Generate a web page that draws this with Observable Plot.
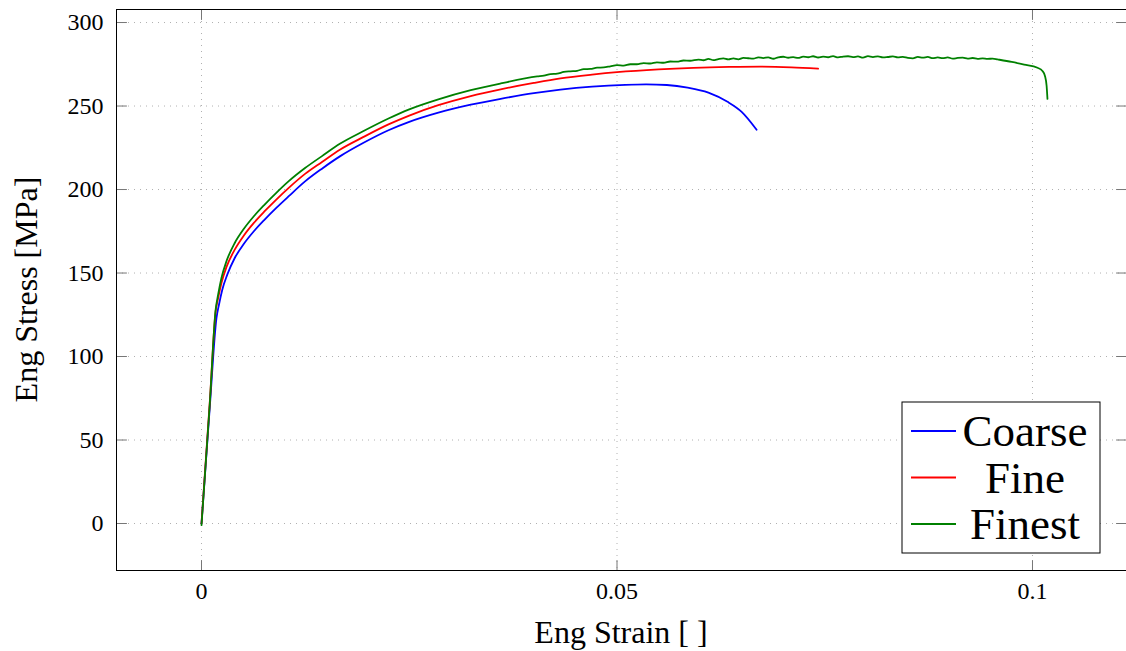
<!DOCTYPE html>
<html><head><meta charset="utf-8">
<script src="https://cdn.jsdelivr.net/npm/d3@7"></script>
<script src="https://cdn.jsdelivr.net/npm/@observablehq/plot@0.6"></script>
<style>
body{margin:0;background:#fff}
svg{display:block}
svg text{font-family:"Liberation Serif","DejaVu Serif",serif !important;}
</style>
</head><body><div id="chart"></div>
<script>
const seriesNames = ["Coarse", "Fine", "Finest"];
const seriesColors = ["#0000ff", "#ff0000", "#008000"];

const coarseStrain = [0, 0.001, 0.0018, 0.0021, 0.0025, 0.0031, 0.0040, 0.0051, 0.0063, 0.0076, 0.0090, 0.0105, 0.0125, 0.0145, 0.0167, 0.0195, 0.0225, 0.0250, 0.0285, 0.0324, 0.0360, 0.0400, 0.0432, 0.0470, 0.0510, 0.0535, 0.0560, 0.0585, 0.0610, 0.0633, 0.0650, 0.0668];
const coarseStress = [0, 70, 123, 131, 140, 149, 159, 167.5, 175, 182, 189, 196, 205, 212.5, 220, 228, 235.5, 240.5, 246, 250.8, 254.3, 257.7, 259.8, 261.6, 262.7, 263, 262.6, 261, 258, 252.5, 246.5, 235.8];

const fineStrain = [0, 0.001, 0.0017, 0.0020, 0.0024, 0.0030, 0.0040, 0.0051, 0.0063, 0.0076, 0.0090, 0.0105, 0.0125, 0.0145, 0.0167, 0.0195, 0.0225, 0.0250, 0.0285, 0.0324, 0.0360, 0.0400, 0.0432, 0.0470, 0.0500, 0.0550, 0.0592, 0.0635, 0.0673, 0.0710, 0.0742];
const fineStress = [0, 73, 127, 135, 144, 153.5, 164, 172.5, 180, 187, 194, 201, 209.5, 216.5, 224, 231.5, 239, 244.3, 250.5, 256, 260, 263.8, 266.5, 268.8, 270.3, 272, 272.9, 273.4, 273.6, 273.2, 272.4];

const finestStrain = [0, 0.001, 0.0017, 0.0020, 0.0024, 0.0030, 0.0040, 0.0051, 0.0063, 0.0076, 0.0090, 0.0105, 0.0125, 0.0145, 0.0167, 0.0195, 0.0225, 0.0250, 0.0285, 0.0324, 0.0360,
  0.0404, 0.0412, 0.0420, 0.0428, 0.0436, 0.0444, 0.0452, 0.0460, 0.0468, 0.0476, 0.0484, 0.0492, 0.0500, 0.0508, 0.0516, 0.0524, 0.0532, 0.0540, 0.0548, 0.0556, 0.0564, 0.0572, 0.0580, 0.0588,
  0.0598, 0.0604, 0.0610, 0.0616, 0.0622, 0.0628, 0.0634, 0.0640, 0.0646, 0.0652, 0.0658, 0.0664, 0.0670, 0.0676, 0.0682, 0.0688, 0.0694, 0.0700, 0.0706, 0.0712,
  0.0718, 0.0724, 0.0730, 0.0736, 0.0742, 0.0748, 0.0754, 0.0760, 0.0766, 0.0772, 0.0778, 0.0784, 0.0790, 0.0796, 0.0802, 0.0808, 0.0814, 0.0820, 0.0826, 0.0832,
  0.0838, 0.0844, 0.0850, 0.0856, 0.0862, 0.0868, 0.0874, 0.0880, 0.0886, 0.0892, 0.0898, 0.0904, 0.0910, 0.0916, 0.0922, 0.0928, 0.0934, 0.0940, 0.0946, 0.0952, 0.0958,
  0.0975, 0.0990, 0.1006, 0.1012, 0.1015, 0.1017, 0.1018];
const finestStress = [-1, 72, 128, 137, 147, 157, 168, 176.5, 184, 191, 198, 205, 213, 220, 227.5, 235, 242.5, 248, 254, 259.5, 263.5,
  267.7, 268.2, 269.1, 269.4, 270.4, 270.8, 271.1, 272.1, 272.2, 273.0, 273.1, 273.8, 274.5, 274.2, 275.0, 275.0, 275.7, 275.45, 276.1, 275.9, 276.65, 276.55, 277.25, 277.1,
  277.75, 277.4, 278.25, 277.45, 278.1, 278.5, 277.9, 278.5, 277.95, 278.85, 278.6, 278.4, 279.15, 278.7, 279.15, 278.3, 279.2, 279.5, 278.9, 279.25,
  278.8, 279.55, 279.2, 279.8, 279.05, 279.6, 279.2, 279.85, 279.1, 279.6, 279.8, 279.3, 279.68, 278.97, 279.85, 279.33, 279.71, 279.08, 279.35, 279.72,
  279.08, 279.44, 278.8, 278.55, 279.4, 278.95, 279.4, 278.65, 279.1, 278.65, 279.12, 278.37, 278.8, 278.95, 278.4, 278.75, 278.2, 278.5, 278.2, 278.4, 277.9,
  276.4, 274.8, 272.9, 271, 268, 262, 254.3];

const xTicks = [0, 0.05, 0.1];
const xTickLabels = ["0", "0.05", "0.1"];
const yTicks = [0, 50, 100, 150, 200, 250, 300];
const yTickLabels = ["0", "50", "100", "150", "200", "250", "300"];
const xLabel = "Eng Strain [ ]";
const yLabel = "Eng Stress [MPa]";

const rows = [];
[[coarseStrain, coarseStress], [fineStrain, fineStress], [finestStrain, finestStress]].forEach(([xs, ys], k) => {
  xs.forEach((x, i) => rows.push({series: seriesNames[k], strain: x, stress: ys[i]}));
});

const FONT = "Liberation Serif, DejaVu Serif, serif";
const tickShape = {draw(ctx, l) { ctx.moveTo(0, 0); ctx.lineTo(0, -l); }};
const tickStyle = {length: 10, anchor: "start", shape: tickShape, stroke: "#777", strokeWidth: 1};

const W = 1126, H = 651;
const plot = Plot.plot({
  width: W, height: H,
  marginLeft: 116, marginRight: 0, marginTop: 9, marginBottom: 81,
  style: {fontFamily: FONT, background: "white", color: "black"},
  x: {domain: [-0.010229, 0.111312]},
  y: {domain: [-28.14, 307.8]},
  color: {domain: seriesNames, range: seriesColors},
  marks: [
    Plot.gridX(xTicks, {stroke: "#b0b0b0", strokeOpacity: 1, strokeDasharray: "1,5"}),
    Plot.gridY(yTicks, {stroke: "#b0b0b0", strokeOpacity: 1, strokeDasharray: "1,5"}),
    Plot.vector(yTicks, {y: d => d, frameAnchor: "left", rotate: 90, ...tickStyle}),
    Plot.vector(yTicks, {y: d => d, frameAnchor: "right", rotate: -90, ...tickStyle}),
    Plot.vector(xTicks, {x: d => d, frameAnchor: "bottom", rotate: 0, ...tickStyle}),
    Plot.vector(xTicks, {x: d => d, frameAnchor: "top", rotate: 180, ...tickStyle}),
    Plot.axisX(xTicks, {tickSize: 0, tickPadding: 11, fontSize: 24, fontFamily: FONT, label: null, tickFormat: (d) => xTickLabels[xTicks.indexOf(d)]}),
    Plot.axisY(yTicks, {tickSize: 0, tickPadding: 13, fontSize: 24, fontFamily: FONT, label: null, tickFormat: (d) => yTickLabels[yTicks.indexOf(d)]}),
    Plot.line(rows, {x: "strain", y: "stress", z: "series", stroke: "series", curve: "monotone-x", strokeWidth: 1.8}),
    Plot.frame({stroke: "black", strokeWidth: 1})
  ]
});
document.getElementById("chart").appendChild(plot);

const svg = d3.select(plot);
const xs = plot.scale("x"), ys = plot.scale("y");
const cx = (xs.range[0] + xs.range[1]) / 2;
const cy = (ys.range[0] + ys.range[1]) / 2;
svg.append("text").attr("x", cx).attr("y", 643).attr("text-anchor", "middle")
  .attr("font-size", 32).attr("font-family", FONT).attr("fill", "black").text(xLabel);
svg.append("text").attr("transform", `translate(37,${cy}) rotate(-90)`).attr("text-anchor", "middle")
  .attr("font-size", 32).attr("font-family", FONT).attr("fill", "black").text(yLabel);

const lg = svg.append("g");
lg.append("rect").attr("x", 902).attr("y", 402).attr("width", 198).attr("height", 151)
  .attr("fill", "white").attr("stroke", "black").attr("stroke-width", 1);
seriesNames.forEach((name, i) => {
  const ly = 431 + i * 46.5;
  lg.append("line").attr("x1", 911).attr("x2", 956).attr("y1", ly).attr("y2", ly)
    .attr("stroke", seriesColors[i]).attr("stroke-width", 2);
  lg.append("text").attr("x", 1025).attr("y", ly + 15).attr("text-anchor", "middle")
    .attr("font-size", 45).attr("font-family", FONT).attr("fill", "black").text(name);
});
</script>
</body></html>
